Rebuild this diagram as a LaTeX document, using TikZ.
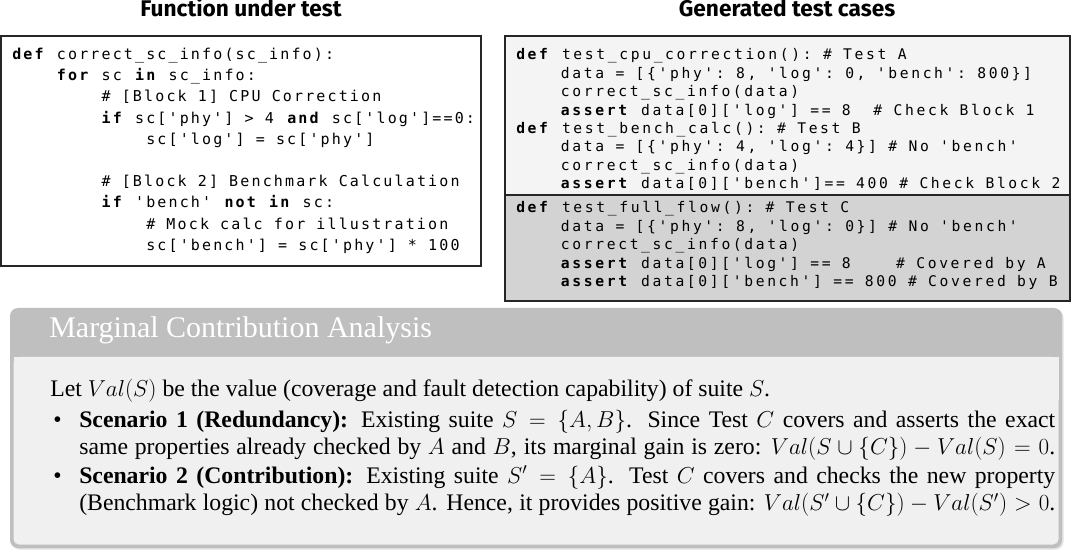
\documentclass[tikz,border=0pt]{standalone}
\usepackage{fontspec}
\setmainfont{Liberation Serif}
\newfontfamily\titlefont{Fira Sans}
\newfontfamily\codeLfont[LetterSpace=14.27,Ligatures=TeXOff]{DejaVu Sans Mono}
\newfontfamily\codeRfont[LetterSpace=18,Ligatures=TeXOff]{DejaVu Sans Mono}
\newcommand\codeL{\codeLfont\fontsize{11.25}{13}\selectfont\frenchspacing\spaceskip=8.3775pt\relax\xspaceskip=8.3775pt\relax}
\newcommand\codeR{\codeRfont\fontsize{11}{13}\selectfont\frenchspacing\spaceskip=8.5pt\relax\xspaceskip=8.5pt\relax}
\newcommand\kw[1]{\textbf{#1}}
\newcommand\bodyfont{\fontsize{17.8}{20.6}\selectfont}
\definecolor{rtop}{HTML}{F4F4F4}
\definecolor{rbot}{HTML}{D3D3D3}
\definecolor{bartitle}{HTML}{BFBFBF}
\definecolor{boxbody}{HTML}{F0F0F0}
\definecolor{shadowcol}{HTML}{E2E2E2}
\begin{document}
\begin{tikzpicture}[x=0.75pt,y=-0.75pt,
  header/.style={font=\titlefont\bfseries\fontsize{17}{19}\selectfont,inner sep=0pt,anchor=base},
  cl/.style={anchor=base west,inner sep=0pt,font=\codeL},
  cr/.style={anchor=base west,inner sep=0pt,font=\codeR},
  panel/.style={draw=black!85,line width=0.8pt},
  bodytext/.style={anchor=base west,inner sep=0pt,font=\bodyfont},
  para/.style={bodytext,text width=732pt,align=justify}]
\useasboundingbox (0,0) rectangle (1075,552);
\def\cw{11.17}
% titles
\node[header] (t1) at (241,17) {Function under test};
\node[header] (t2) at (787,17) {Generated test cases};
% left panel
\draw[panel,fill=white] (1,36) rectangle (481,266);
\def\lx{12}
\node[cl] (l0) at (\lx,59.5) {\kw{def} correct\_sc\_info(sc\_info):};
\node[cl] (l1) at ({\lx+4*\cw},81) {\kw{for} sc \kw{in} sc\_info:};
\node[cl] (l2) at ({\lx+8*\cw},102) {\# [Block 1] CPU Correction};
\node[cl] (l3) at ({\lx+8*\cw},123.5) {\kw{if} sc['phy'] > 4 \kw{and} sc['log']==0:};
\node[cl] (l4) at ({\lx+12*\cw},144.5) {sc['log'] = sc['phy']};
\node[cl] (l6) at ({\lx+8*\cw},187) {\# [Block 2] Benchmark Calculation};
\node[cl] (l7) at ({\lx+8*\cw},208) {\kw{if} 'bench' \kw{not} \kw{in} sc:};
\node[cl] (l8) at ({\lx+12*\cw},229.5) {\# Mock calc for illustration};
\node[cl] (l9) at ({\lx+12*\cw},250.5) {sc['bench'] = sc['phy'] * 100};
% right panel
\fill[rtop] (505,36) rectangle (1070,195);
\fill[rbot] (505,195) rectangle (1070,301);
\draw[panel] (505,195) -- (1070,195);
\draw[panel] (505,36) rectangle (1070,301);
\def\rx{516}
\node[cr] (a0) at (\rx,60) {\kw{def} test\_cpu\_correction(): \# Test A};
\node[cr] (a1) at ({\rx+4*\cw},78.4) {data = [\{'phy': 8, 'log': 0, 'bench': 800\}]};
\node[cr] (a2) at ({\rx+4*\cw},96.8) {correct\_sc\_info(data)};
\node[cr] (a3) at ({\rx+4*\cw},115.2) {\kw{assert} data[0]['log'] == 8\ \ \# Check Block 1};
\node[cr] (b0) at (\rx,133.6) {\kw{def} test\_bench\_calc(): \# Test B};
\node[cr] (b1) at ({\rx+4*\cw},152) {data = [\{'phy': 4, 'log': 4\}] \# No 'bench'};
\node[cr] (b2) at ({\rx+4*\cw},170.4) {correct\_sc\_info(data)};
\node[cr] (b3) at ({\rx+4*\cw},188.8) {\kw{assert} data[0]['bench']== 400 \# Check Block 2};
\node[cr] (c0) at (\rx,213) {\kw{def} test\_full\_flow(): \# Test C};
\node[cr] (c1) at ({\rx+4*\cw},231.4) {data = [\{'phy': 8, 'log': 0\}] \# No 'bench'};
\node[cr] (c2) at ({\rx+4*\cw},249.8) {correct\_sc\_info(data)};
\node[cr] (c3) at ({\rx+4*\cw},268.2) {\kw{assert} data[0]['log'] == 8\ \ \ \ \# Covered by A};
\node[cr] (c4) at ({\rx+4*\cw},286.6) {\kw{assert} data[0]['bench'] == 800 \# Covered by B};
% analysis box
\fill[shadowcol,rounded corners=6pt] (11.5,309.5) rectangle (1063.5,549.5);
\fill[bartitle,rounded corners=6pt] (10,308) rectangle (1062,548);
\fill[boxbody] (13.5,357) rectangle (1058.5,400);
\fill[boxbody,rounded corners=4pt] (13.5,357) rectangle (1058.5,544.5);
\node[anchor=base west,inner sep=0pt,text=white,font=\fontsize{22.5}{24}\selectfont] (mt) at (49,338) {Marginal Contribution Analysis};
\node[bodytext] (p0) at (50,397) {Let $Val(S)$ be the value (coverage and fault detection capability) of suite $S$.};
\node[bodytext] (u1) at (53,427) {\textbullet};
\node[para] (p1) at (79,427) {\textbf{Scenario 1 (Redundancy):} Existing suite $S=\{A,B\}$. Since Test $C$ covers and asserts the exact\linebreak same properties already checked by $A$ and $B$, its marginal gain is zero: $Val(S\cup\{C\})-Val(S)=0$.{\parfillskip=0pt\par}};
\node[bodytext] (u2) at (53,483) {\textbullet};
\node[para] (p2) at (79,483) {\textbf{Scenario 2 (Contribution):} Existing suite $S'=\{A\}$. Test $C$ covers and checks the new property\linebreak (Benchmark logic) not checked by $A$. Hence, it provides positive gain: $Val(S'\cup\{C\})-Val(S')>0$.{\parfillskip=0pt\par}};
\end{tikzpicture}
\end{document}
